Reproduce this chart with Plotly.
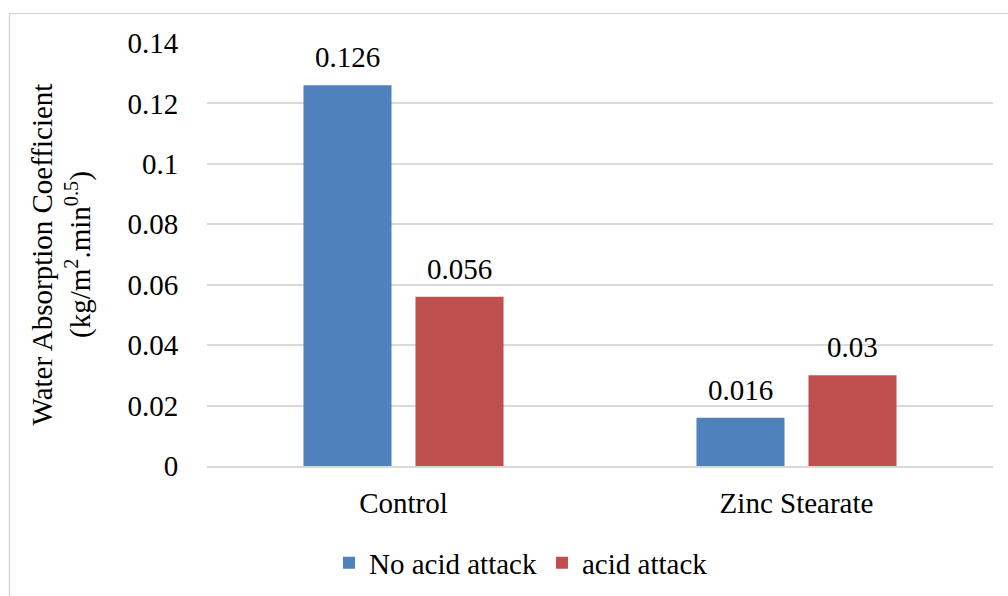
import plotly.graph_objects as go

# Chart data
categories = ["Control", "Zinc Stearate"]
series_names = ["No acid attack", "acid attack"]
no_acid = [0.126, 0.016]
acid = [0.056, 0.03]
series_values = [no_acid, acid]
series_colors = ["#4F81BD", "#C0504D"]
y_ticks = [0, 0.02, 0.04, 0.06, 0.08, 0.1, 0.12, 0.14]
y_tick_labels = ["0", "0.02", "0.04", "0.06", "0.08", "0.1", "0.12", "0.14"]

FONT = "Times New Roman"
FS = 29
TXT = "#000000"

fig = go.Figure()
for name, vals, col in zip(series_names, series_values, series_colors):
    fig.add_trace(go.Bar(x=categories, y=vals, name=name, marker=dict(color=col, line_width=0)))

# value labels above each bar
offsets = [-56, 56]
for vals, dx in zip(series_values, offsets):
    for cat, v in zip(categories, vals):
        fig.add_annotation(x=cat, y=v, text=f"{v:g}", showarrow=False, xshift=dx,
                           yanchor="bottom", yshift=10,
                           font=dict(family=FONT, size=FS, color=TXT))

# outer chart frame
L, R, T, B = 207, 15, 43, 130
W, H = 1008, 596
pw, ph = W - L - R, H - T - B
def px_x(p):
    return (p - L) / pw
def px_y(p):
    return (H - B - p) / ph
fig.add_shape(type="rect", xref="paper", yref="paper",
              x0=px_x(9.5), x1=px_x(1030), y0=px_y(620), y1=px_y(13.5),
              line=dict(color="#D9D9D9", width=1.5), fillcolor="rgba(0,0,0,0)", layer="below")

fig.update_layout(
    width=W, height=H,
    margin=dict(l=L, r=R, t=T, b=B, autoexpand=False),
    paper_bgcolor="white", plot_bgcolor="white",
    barmode="group", bargap=0.43, bargroupgap=0.214,
    showlegend=True,
    legend=dict(orientation="h", x=px_x(521), xanchor="center", y=px_y(563), yanchor="middle",
                font=dict(family=FONT, size=FS, color=TXT)),
)
fig.update_yaxes(range=[0, 0.14], tickvals=y_ticks, ticktext=y_tick_labels,
                 tickfont=dict(family=FONT, size=FS, color=TXT),
                 showgrid=True, gridcolor="#D9D9D9", gridwidth=1.5,
                 zeroline=False, showline=False,
                 ticks="outside", ticklen=22, tickcolor="rgba(0,0,0,0)",
                 title=dict(text="Water Absorption Coefficient<br>(kg/m<sup>2</sup>.min<sup>0.5</sup>)",
                            font=dict(family=FONT, size=FS, color=TXT), standoff=28))
fig.update_xaxes(showline=True, linecolor="#D9D9D9", linewidth=1.5,
                 ticks="outside", ticklen=10, tickcolor="rgba(0,0,0,0)",
                 tickfont=dict(family=FONT, size=FS, color=TXT), showgrid=False)

fig.write_html("out.html")
